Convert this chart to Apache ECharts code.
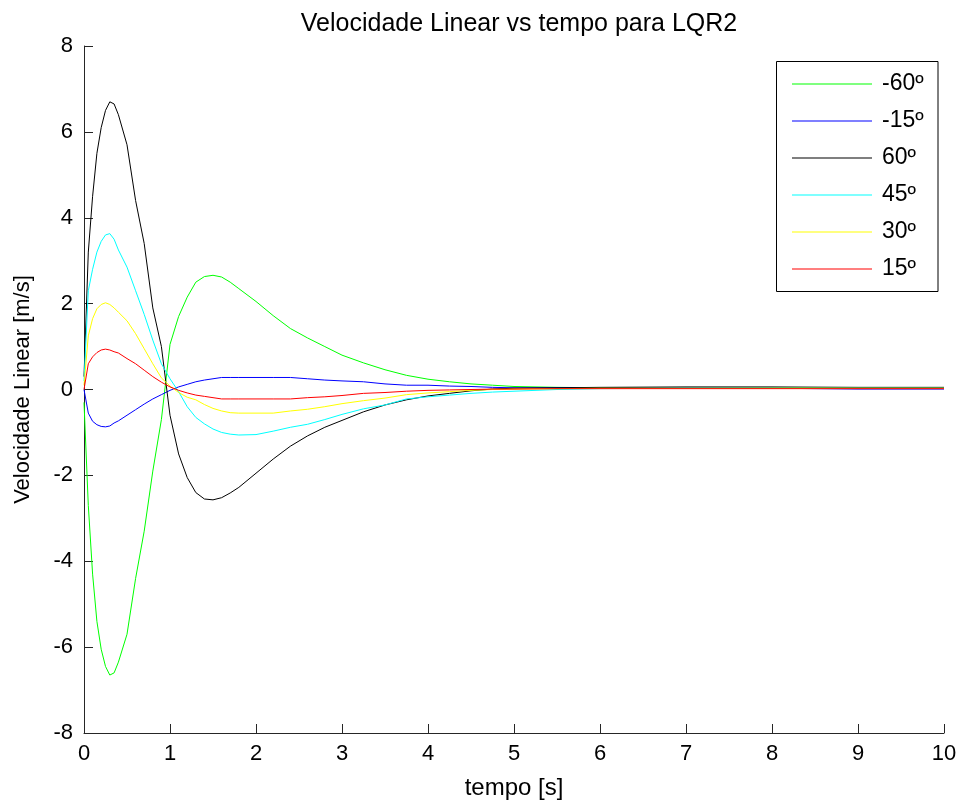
<!DOCTYPE html>
<html>
<head>
<meta charset="utf-8">
<script src="https://cdn.jsdelivr.net/npm/echarts@6/dist/echarts.min.js"></script>
<style>html,body{margin:0;padding:0;background:#fff}#c{width:970px;height:809px}</style>
</head>
<body>
<div id="c"></div>
<script>
const time = [0,0.05,0.1,0.15,0.2,0.25,0.3,0.35,0.4,0.5,0.6,0.7,0.8,0.9,1.0,1.1,1.2,1.3,1.4,1.5,1.6,1.7,1.8,2.0,2.2,2.4,2.6,2.8,3.0,3.25,3.5,3.75,4.0,4.25,4.5,4.75,5.0,5.5,6,7,8,9,10];
const vNeg60 = [-0.3,-2.7,-4.3,-5.4,-6.05,-6.45,-6.65,-6.6,-6.35,-5.7,-4.4,-3.3,-1.9,-0.7,1.05,1.7,2.15,2.5,2.63,2.66,2.62,2.5,2.35,2.05,1.72,1.42,1.2,1.0,0.8,0.62,0.46,0.33,0.24,0.18,0.13,0.1,0.07,0.05,0.04,0.04,0.04,0.04,0.04];
const vNeg15 = [0.0,-0.55,-0.74,-0.82,-0.86,-0.87,-0.85,-0.78,-0.73,-0.6,-0.47,-0.34,-0.22,-0.12,-0.02,0.06,0.12,0.18,0.22,0.25,0.28,0.28,0.28,0.28,0.28,0.28,0.25,0.22,0.2,0.18,0.13,0.1,0.1,0.08,0.07,0.05,0.04,0.04,0.04,0.04,0.03,0.01,0.01];
const v60 = [0.3,3.2,4.5,5.5,6.1,6.5,6.7,6.65,6.4,5.7,4.4,3.4,1.9,1.0,-0.6,-1.5,-2.05,-2.4,-2.55,-2.57,-2.52,-2.41,-2.28,-1.95,-1.62,-1.32,-1.08,-0.88,-0.72,-0.52,-0.36,-0.24,-0.15,-0.09,-0.03,0.01,0.03,0.04,0.05,0.06,0.06,0.05,0.05];
const v45 = [0.2,2.3,2.8,3.2,3.45,3.6,3.63,3.5,3.25,2.85,2.3,1.75,1.15,0.6,0.25,-0.05,-0.4,-0.65,-0.8,-0.92,-1.0,-1.04,-1.06,-1.05,-0.97,-0.88,-0.81,-0.7,-0.58,-0.45,-0.36,-0.22,-0.17,-0.13,-0.09,-0.06,-0.04,0.0,0.02,0.03,0.03,0.03,0.03];
const v30 = [0.1,1.25,1.65,1.88,1.98,2.02,1.98,1.9,1.8,1.6,1.3,0.95,0.6,0.27,0.08,-0.07,-0.18,-0.24,-0.35,-0.44,-0.5,-0.54,-0.55,-0.55,-0.55,-0.5,-0.46,-0.4,-0.33,-0.26,-0.2,-0.12,-0.08,-0.05,-0.02,0.0,0.01,0.02,0.03,0.03,0.03,0.03,0.03];
const v15 = [0.0,0.6,0.76,0.86,0.92,0.94,0.92,0.88,0.85,0.72,0.6,0.45,0.3,0.17,0.06,-0.02,-0.08,-0.13,-0.16,-0.19,-0.22,-0.22,-0.22,-0.22,-0.22,-0.22,-0.19,-0.17,-0.14,-0.09,-0.07,-0.04,-0.02,-0.01,0.0,0.01,0.01,0.02,0.02,0.02,0.02,0.02,0.02];
const seriesNames = ['-60º','-15º','60º','45º','30º','15º'];
const seriesColors = ['#00ff00','#0000ff','#000000','#00ffff','#ffff00','#ff0000'];
const seriesValues = [vNeg60, vNeg15, v60, v45, v30, v15];
const xTicks = [0,1,2,3,4,5,6,7,8,9,10];
const yTicks = [-8,-6,-4,-2,0,2,4,6,8];

const FONT = 'Liberation Sans, Arial, sans-serif';
const AX = '#262626';
const chart = echarts.init(document.getElementById('c'), null, {renderer:'canvas'});
const series = seriesNames.map((n,i)=>({
  name:n, type:'line', symbol:'none', smooth:false,
  data: time.map((t,j)=>[t, seriesValues[i][j]]),
  lineStyle:{color:seriesColors[i], width:1},
  itemStyle:{color:seriesColors[i]},
  emphasis:{disabled:true}, animation:false
}));
chart.setOption({
  animation:false,
  backgroundColor:'#fff',
  title:{text:'Velocidade Linear vs tempo para LQR2', left:514, top:7, textAlign:'center',
    textStyle:{fontFamily:FONT, fontSize:25, fontWeight:'normal', color:'#000'}},
  grid:{left:84, right:26, top:46, bottom:76, containLabel:false},
  xAxis:{type:'value', min:xTicks[0], max:xTicks[xTicks.length-1], interval:1,
    name:'tempo [s]', nameLocation:'middle', nameGap:43,
    nameTextStyle:{fontFamily:FONT, fontSize:24, color:'#000'},
    axisLine:{show:true, onZero:false, lineStyle:{color:AX, width:1}},
    axisTick:{show:true, inside:true, length:9, lineStyle:{color:AX}},
    axisLabel:{fontFamily:FONT, fontSize:22, color:'#000', margin:10},
    splitLine:{show:false}},
  yAxis:{type:'value', min:yTicks[0], max:yTicks[yTicks.length-1], interval:2,
    name:'Velocidade Linear [m/s]', nameLocation:'middle', nameGap:50,
    nameTextStyle:{fontFamily:FONT, fontSize:22, color:'#000'},
    axisLine:{show:true, onZero:false, lineStyle:{color:AX, width:1}},
    axisTick:{show:true, inside:true, length:9, lineStyle:{color:AX}},
    axisLabel:{fontFamily:FONT, fontSize:22, color:'#000', margin:11},
    splitLine:{show:false}},
  legend:{data:seriesNames, orient:'vertical', left:792, top:72.5, padding:0,
    itemWidth:80, itemHeight:1, itemGap:14,
    icon:'rect',
    itemStyle:{borderWidth:0},
    textStyle:{fontFamily:FONT, fontSize:23, color:'#000', padding:[0,0,0,5]},
    selectedMode:false},
  graphic:[{type:'rect', shape:{x:776.5, y:61.5, width:161.5, height:230},
    style:{fill:'none', stroke:'#000', lineWidth:1}, silent:true, z:0}],
  series: series
});
</script>
</body>
</html>
